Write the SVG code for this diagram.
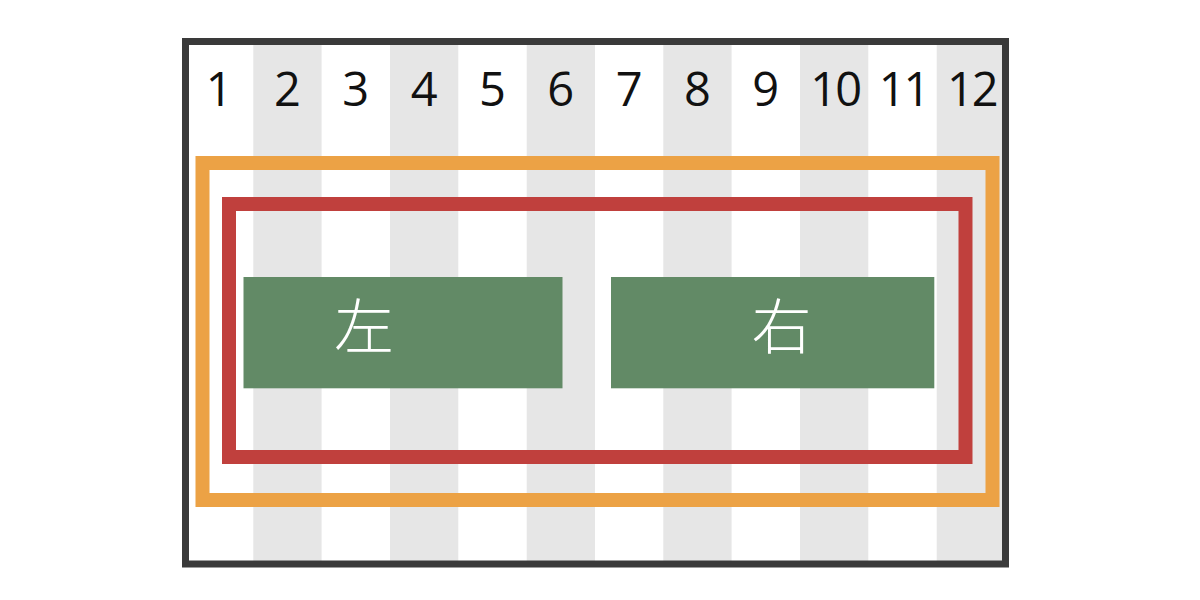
<svg xmlns="http://www.w3.org/2000/svg" width="1200" height="600" viewBox="0 0 1200 600">
<style>
.col{fill:#e6e6e6}
.num{font-family:"Open Sans","Noto Sans","DejaVu Sans",sans-serif;font-size:47px;fill:#111111;text-anchor:middle}
.two{letter-spacing:-2px}
.box{fill:#628a66}
.lbl{font-family:"Noto Sans CJK JP","Noto Sans CJK SC",sans-serif;font-size:60px;font-weight:300;fill:#ffffff;text-anchor:middle}
</style>
<rect x="0" y="0" width="1200" height="600" fill="#ffffff"/>
<g id="grid">
<rect class="col" x="253.3" y="41" width="68.3" height="523"/>
<rect class="col" x="390" y="41" width="68.3" height="523"/>
<rect class="col" x="526.7" y="41" width="68.3" height="523"/>
<rect class="col" x="663.3" y="41" width="68.3" height="523"/>
<rect class="col" x="800" y="41" width="68.3" height="523"/>
<rect class="col" x="936.7" y="41" width="68.3" height="523"/>
</g>
<g id="numbers">
<text class="num" x="219.2" y="106">1</text>
<text class="num" x="287.5" y="106">2</text>
<text class="num" x="355.8" y="106">3</text>
<text class="num" x="424.2" y="106">4</text>
<text class="num" x="492.5" y="106">5</text>
<text class="num" x="560.8" y="106">6</text>
<text class="num" x="629.2" y="106">7</text>
<text class="num" x="697.5" y="106">8</text>
<text class="num" x="765.8" y="106">9</text>
<text class="num two" x="835.2" y="106">10</text>
<text class="num two" x="903.5" y="106">11</text>
<text class="num two" x="971.8" y="106">12</text>
</g>
<g id="outer-frame">
<rect x="185.5" y="41.5" width="820" height="522.5" fill="none" stroke="#3a3a3a" stroke-width="7"/>
</g>
<g id="orange-container">
<rect x="202.5" y="163" width="790" height="337" fill="none" stroke="#eca245" stroke-width="14"/>
</g>
<g id="red-container">
<rect x="229" y="204" width="736.5" height="253" fill="none" stroke="#c0403d" stroke-width="14"/>
</g>
<g id="left">
<rect class="box" x="243.5" y="277" width="319" height="111.3"/>
<text class="lbl" x="364" y="349">左</text>
</g>
<g id="right">
<rect class="box" x="611" y="277" width="323.3" height="111.3"/>
<text class="lbl" x="781.5" y="349">右</text>
</g>
</svg>
